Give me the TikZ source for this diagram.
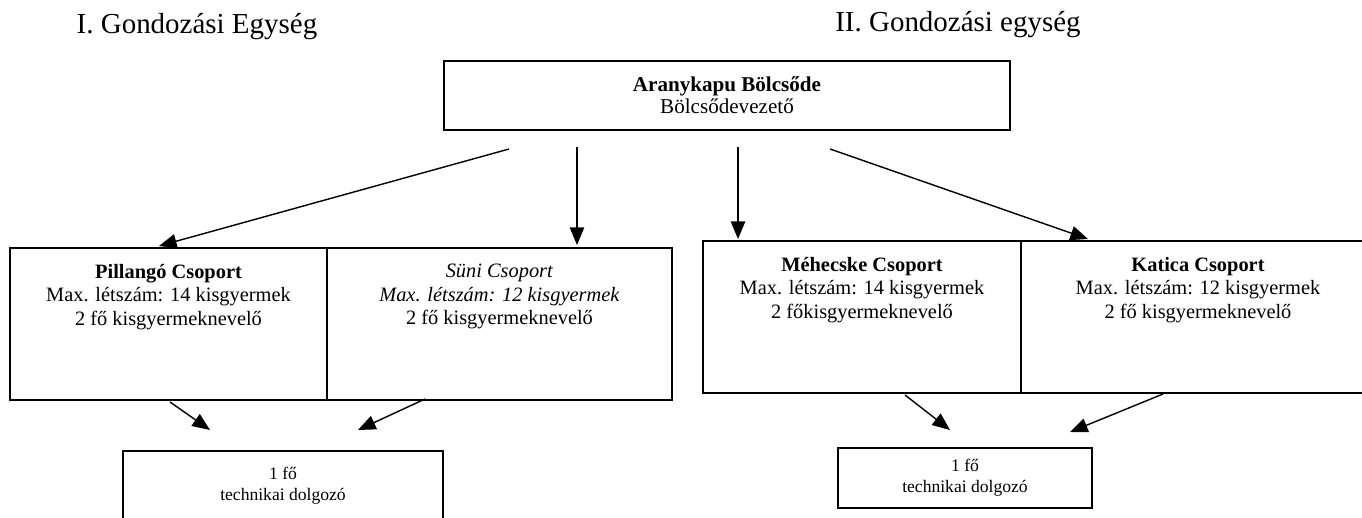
\documentclass[tikz,border=0pt]{standalone}
\usepackage{fontspec}
\setmainfont{Liberation Serif}
\usetikzlibrary{positioning,arrows.meta}
\tikzset{
  box/.style={draw,line width=1pt,inner sep=0pt},
  grptext/.style={align=center,anchor=north,inner sep=0pt,font=\fontsize{14.5}{16.6}\selectfont},
  arr/.style={line width=1pt,-{Triangle[length=0.44cm,width=0.36cm]}}
}

\begin{document}
\begin{tikzpicture}[x=0.025cm,y=-0.025cm]
    \clip (0,0) rectangle (1362,518);
    % headings
    \path[font=\fontsize{20.6}{24}\selectfont]
      (197,27) node (unit1) {I. Gondozási Egység}
      (958,25) node (unit2) {II. Gondozási egység};
    % head of the nursery
    \node[box,minimum width=14.15cm,minimum height=1.725cm,align=center,
          font=\fontsize{15}{15.5}\selectfont] (head) at (727,95.5)
      {\textbf{Aranykapu Bölcsőde}\\Bölcsődevezető};
    % groups
    \node[box,minimum width=7.925cm,minimum height=3.8cm] (pill) at (168.5,324) {};
    \node[box,minimum width=8.625cm,minimum height=3.8cm] (suni) at (499.5,324) {};
    \node[box,minimum width=7.95cm,minimum height=3.8cm] (mehe) at (862,317) {};
    \node[box,minimum width=8.85cm,minimum height=3.8cm] (kati) at (1198,317) {};
    \node[grptext] (pilltxt) at ([yshift=-0.42cm]pill.north)
      {\textbf{Pillangó Csoport}\\Max. létszám: 14 kisgyermek\\2 fő kisgyermeknevelő};
    \node[grptext] (sunitxt) at ([yshift=-0.42cm]suni.north)
      {\textit{Süni Csoport}\\\textit{Max. létszám: 12 kisgyermek}\\2 fő kisgyermeknevelő};
    \node[grptext] (mehetxt) at ([yshift=-0.42cm]mehe.north)
      {\textbf{Méhecske Csoport}\\Max. létszám: 14 kisgyermek\\2 főkisgyermeknevelő};
    \node[grptext] (katitxt) at ([yshift=-0.42cm]kati.north)
      {\textbf{Katica Csoport}\\Max. létszám: 12 kisgyermek\\2 fő kisgyermeknevelő};
    % technical staff
    \node[box,minimum width=8cm,minimum height=2.225cm] (tech1) at (283,495.5) {};
    \node[grptext,font=\fontsize{12.5}{14.9}\selectfont] (tech1txt) at (283,467)
      {1 fő\\technikai dolgozó};
    \node[box,minimum width=6.35cm,minimum height=1.5cm,align=center,
          font=\fontsize{12.5}{14.9}\selectfont] (tech2) at (965,478)
      {1 fő\\technikai dolgozó};
    % arrow ends
    \coordinate (s1) at (509,149);  \coordinate (e1) at (159,246);
    \coordinate (s2) at (577,147);  \coordinate (e2) at (577,245);
    \coordinate (s3) at (738,147);  \coordinate (e3) at (738,239);
    \coordinate (s4) at (830,149);  \coordinate (e4) at (1088,239);
    \coordinate (s5) at (170,402);  \coordinate (e5) at (210,430);
    \coordinate (s6) at (425,399);  \coordinate (e6) at (358,430);
    \coordinate (s7) at (905,395);  \coordinate (e7) at (950,430);
    \coordinate (s8) at (1163,394); \coordinate (e8) at (1070,432);
    \foreach \i in {1,...,8}
      \draw[arr] (s\i) -- (e\i);
\end{tikzpicture}
\end{document}
